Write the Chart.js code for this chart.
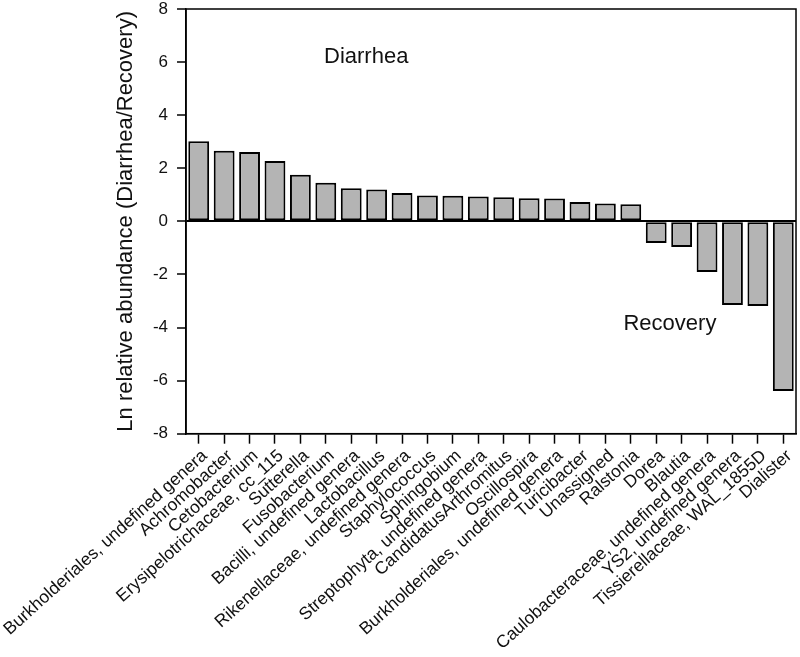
<!DOCTYPE html>
<html lang="en">
<head>
    <meta charset="UTF-8">
    <script src="https://cdn.jsdelivr.net/npm/chart.js"></script>
    <title>Ln relative abundance</title>
    <style>
        body { margin: 0; background: #fff; }
        .box { width: 800px; height: 657px; }
    </style>
</head>
<body>
    <div class="box">
        <canvas id="barras"></canvas>
    </div>
</body>
</html>
<script>
    var generos = [
        'Burkholderiales, undefined genera', 'Achromobacter', 'Cetobacterium',
        'Erysipelotrichaceae, cc_115', 'Sutterella', 'Fusobacterium',
        'Bacilli, undefined genera', 'Lactobacillus', 'Rikenellaceae, undefined genera',
        'Staphylococcus', 'Sphingobium', 'Streptophyta, undefined genera',
        'CandidatusArthromitus', 'Oscillospira', 'Burkholderiales, undefined genera',
        'Turicibacter', 'Unassigned', 'Ralstonia', 'Dorea', 'Blautia',
        'Caulobacteraceae, undefined genera', 'YS2, undefined genera',
        'Tissierellaceae, WAL_1855D', 'Dialister'
    ]
    var lnAbundancia = [
        3.02, 2.66, 2.61, 2.27, 1.76, 1.45, 1.25, 1.20, 1.07,
        0.97, 0.96, 0.94, 0.91, 0.87, 0.86, 0.73, 0.67, 0.64,
        -0.82, -0.97, -1.91, -3.15, -3.19, -6.39
    ]
    var ticksY = [-8, -6, -4, -2, 0, 2, 4, 6, 8]

    var fonte = "'Liberation Sans', Arial, sans-serif"

    // textos "Diarrhea" / "Recovery" e moldura do grafico
    var textos = {
        id: 'textos',
        afterDraw(chart) {
            var ctx = chart.ctx
            var x = chart.scales.x
            var y = chart.scales.y
            var a = chart.chartArea
            ctx.save()
            ctx.strokeStyle = '#000'
            ctx.lineWidth = 1.5
            ctx.strokeRect(a.left, a.top, a.right - a.left, a.bottom - a.top)
            ctx.fillStyle = '#111'
            ctx.font = '22px ' + fonte
            ctx.textAlign = 'center'
            ctx.textBaseline = 'middle'
            ctx.fillText('Diarrhea', x.getPixelForValue(6.59), y.getPixelForValue(6.2))
            ctx.fillText('Recovery', x.getPixelForValue(18.54), y.getPixelForValue(-3.85))
            ctx.restore()
        }
    }

    var grafico = new Chart(document.getElementById('barras'), {
        type: 'bar',
        data: {
            labels: generos,
            datasets: [{
                data: lnAbundancia,
                backgroundColor: '#b4b4b4',
                borderColor: '#000',
                borderWidth: 2,
                borderSkipped: false,
                barPercentage: 0.82,
                categoryPercentage: 1
            }]
        },
        options: {
            responsive: true,
            maintainAspectRatio: false,
            animation: false,
            layout: { padding: { left: 112.5, right: 4, top: 9, bottom: 1 } },
            plugins: {
                legend: { display: false },
                tooltip: { enabled: false }
            },
            scales: {
                x: {
                    afterFit: (scale) => {
                        scale.paddingLeft = 0
                        scale.paddingRight = 0
                    },
                    grid: {
                        offset: false,
                        drawOnChartArea: false,
                        tickLength: 10,
                        tickColor: '#000',
                        tickWidth: 1.5
                    },
                    border: { color: '#000', width: 1.5 },
                    ticks: {
                        color: '#111',
                        font: { family: fonte, size: 17.5 },
                        minRotation: 42,
                        maxRotation: 42,
                        autoSkip: false,
                        labelOffset: 6,
                        padding: 2
                    }
                },
                y: {
                    min: -8,
                    max: 8,
                    afterBuildTicks: (scale) => {
                        scale.ticks = ticksY.map(v => ({ value: v }))
                    },
                    afterFit: (scale) => {
                        scale.paddingTop = 0
                        scale.paddingBottom = 0
                    },
                    grid: {
                        color: (c) => (c.tick && c.tick.value === 0 ? '#000' : 'transparent'),
                        lineWidth: 2,
                        tickLength: 9,
                        tickColor: '#000',
                        tickWidth: 1.5
                    },
                    border: { color: '#000', width: 1.5 },
                    ticks: {
                        color: '#111',
                        font: { family: fonte, size: 17 },
                        padding: 9
                    },
                    title: {
                        display: true,
                        text: 'Ln relative abundance (Diarrhea/Recovery)',
                        color: '#111',
                        font: { family: fonte, size: 22 },
                        padding: { top: 0, bottom: 5 }
                    }
                }
            }
        },
        plugins: [textos]
    })
</script>
